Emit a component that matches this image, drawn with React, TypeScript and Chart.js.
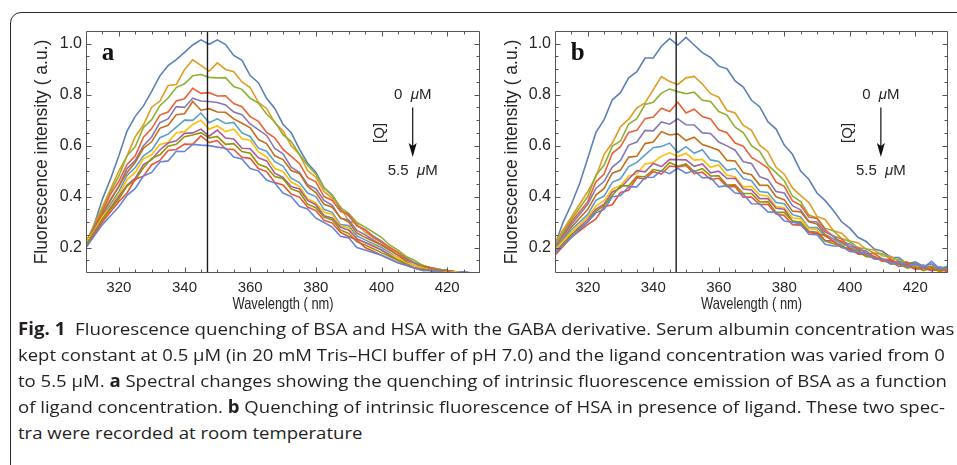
import React, { useEffect, useLayoutEffect, useRef } from 'react';
import { Chart, registerables } from 'chart.js';

Chart.register(...registerables);

// ---------- data ----------
const WAVELENGTHS = [310, 312.5, 315, 317.5, 320, 322.5, 325, 327.5, 330, 332.5, 335, 337.5, 340, 342.5, 345, 347.5, 350, 352.5, 355, 357.5, 360, 362.5, 365, 367.5, 370, 372.5, 375, 377.5, 380, 382.5, 385, 387.5, 390, 392.5, 395, 397.5, 400, 402.5, 405, 407.5, 410, 412.5, 415, 417.5, 420, 422.5, 425, 427.5, 430];

const CONCENTRATIONS = ['0 µM', '0.5 µM', '1.0 µM', '1.5 µM', '2.0 µM', '2.5 µM', '3.0 µM', '3.5 µM', '4.0 µM', '4.5 µM', '5.0 µM', '5.5 µM'];

const X_TICKS = [320, 340, 360, 380, 400, 420];
const Y_TICKS = [0.2, 0.4, 0.6, 0.8, 1.0];
const MARKER_NM = 347;
const X_TITLE = 'Wavelength ( nm)';
const Y_TITLE = 'Fluorescence intensity ( a.u.)';

// panel a: BSA
const BSA_0_0 = [0.21, 0.29, 0.39, 0.47, 0.56, 0.657, 0.715, 0.756, 0.813, 0.874, 0.914, 0.938, 0.966, 0.995, 1.015, 0.998, 1.015, 0.997, 0.954, 0.935, 0.875, 0.847, 0.786, 0.746, 0.684, 0.651, 0.586, 0.531, 0.496, 0.435, 0.404, 0.349, 0.325, 0.286, 0.27, 0.245, 0.225, 0.2, 0.18, 0.16, 0.14, 0.13, 0.12, 0.115, 0.11, 0.105, 0.105, 0.1, 0.1];
const BSA_0_5 = [0.22, 0.29, 0.36, 0.43, 0.50, 0.56, 0.635, 0.682, 0.751, 0.775, 0.836, 0.84, 0.898, 0.937, 0.915, 0.892, 0.925, 0.899, 0.89, 0.85, 0.828, 0.77, 0.746, 0.69, 0.658, 0.599, 0.565, 0.502, 0.476, 0.42, 0.393, 0.36, 0.304, 0.293, 0.26, 0.24, 0.22, 0.195, 0.18, 0.155, 0.14, 0.125, 0.12, 0.11, 0.11, 0.105, 0.1, 0.1, 0.1];
const BSA_1_0 = [0.22, 0.285, 0.35, 0.42, 0.48, 0.56, 0.596, 0.671, 0.702, 0.757, 0.787, 0.828, 0.843, 0.874, 0.879, 0.868, 0.866, 0.867, 0.832, 0.821, 0.786, 0.767, 0.724, 0.694, 0.643, 0.616, 0.566, 0.523, 0.488, 0.434, 0.407, 0.357, 0.334, 0.298, 0.28, 0.26, 0.24, 0.21, 0.19, 0.165, 0.15, 0.13, 0.12, 0.115, 0.11, 0.105, 0.1, 0.1, 0.1];
const BSA_1_5 = [0.21, 0.28, 0.34, 0.41, 0.46, 0.526, 0.56, 0.633, 0.667, 0.72, 0.732, 0.775, 0.784, 0.825, 0.805, 0.808, 0.795, 0.796, 0.765, 0.753, 0.714, 0.695, 0.652, 0.631, 0.585, 0.558, 0.53, 0.474, 0.458, 0.40, 0.385, 0.342, 0.331, 0.285, 0.27, 0.24, 0.22, 0.2, 0.18, 0.155, 0.14, 0.125, 0.12, 0.11, 0.11, 0.105, 0.1, 0.1, 0.1];
const BSA_2_0 = [0.21, 0.275, 0.33, 0.39, 0.44, 0.51, 0.542, 0.60, 0.634, 0.69, 0.705, 0.753, 0.75, 0.786, 0.775, 0.773, 0.769, 0.76, 0.732, 0.721, 0.685, 0.663, 0.64, 0.589, 0.568, 0.515, 0.495, 0.447, 0.431, 0.385, 0.366, 0.315, 0.308, 0.267, 0.25, 0.23, 0.21, 0.19, 0.17, 0.15, 0.14, 0.125, 0.12, 0.11, 0.11, 0.105, 0.1, 0.1, 0.1];
const BSA_2_5 = [0.22, 0.27, 0.33, 0.385, 0.44, 0.495, 0.534, 0.59, 0.615, 0.668, 0.68, 0.721, 0.725, 0.773, 0.739, 0.745, 0.732, 0.731, 0.705, 0.688, 0.67, 0.624, 0.608, 0.56, 0.545, 0.502, 0.491, 0.44, 0.416, 0.37, 0.358, 0.317, 0.30, 0.257, 0.24, 0.225, 0.21, 0.19, 0.17, 0.145, 0.13, 0.125, 0.12, 0.11, 0.11, 0.1, 0.1, 0.1, 0.1];
const BSA_3_0 = [0.21, 0.265, 0.32, 0.37, 0.42, 0.483, 0.514, 0.56, 0.582, 0.631, 0.645, 0.673, 0.70, 0.699, 0.728, 0.69, 0.705, 0.687, 0.691, 0.65, 0.636, 0.59, 0.578, 0.537, 0.52, 0.472, 0.455, 0.414, 0.40, 0.35, 0.338, 0.29, 0.286, 0.245, 0.23, 0.215, 0.20, 0.18, 0.16, 0.14, 0.13, 0.12, 0.11, 0.105, 0.10, 0.1, 0.1, 0.1, 0.1];
const BSA_3_5 = [0.22, 0.265, 0.32, 0.36, 0.41, 0.466, 0.495, 0.548, 0.564, 0.605, 0.612, 0.651, 0.655, 0.683, 0.70, 0.664, 0.678, 0.655, 0.665, 0.627, 0.621, 0.575, 0.556, 0.51, 0.498, 0.457, 0.44, 0.392, 0.375, 0.339, 0.33, 0.285, 0.278, 0.235, 0.22, 0.21, 0.19, 0.175, 0.16, 0.14, 0.13, 0.12, 0.11, 0.105, 0.1, 0.105, 0.1, 0.1, 0.1];
const BSA_4_0 = [0.21, 0.26, 0.31, 0.355, 0.40, 0.445, 0.472, 0.526, 0.545, 0.583, 0.61, 0.619, 0.648, 0.65, 0.665, 0.637, 0.661, 0.63, 0.626, 0.59, 0.588, 0.552, 0.54, 0.492, 0.475, 0.439, 0.43, 0.385, 0.368, 0.325, 0.316, 0.28, 0.268, 0.234, 0.22, 0.205, 0.19, 0.17, 0.15, 0.135, 0.12, 0.115, 0.11, 0.105, 0.1, 0.1, 0.1, 0.1, 0.1];
const BSA_4_5 = [0.21, 0.255, 0.31, 0.35, 0.39, 0.441, 0.465, 0.513, 0.55, 0.564, 0.598, 0.605, 0.635, 0.642, 0.651, 0.63, 0.636, 0.605, 0.608, 0.577, 0.57, 0.527, 0.515, 0.479, 0.47, 0.43, 0.418, 0.37, 0.356, 0.32, 0.308, 0.269, 0.255, 0.222, 0.21, 0.195, 0.18, 0.165, 0.15, 0.135, 0.12, 0.115, 0.11, 0.105, 0.1, 0.1, 0.1, 0.1, 0.1];
const BSA_5_0 = [0.20, 0.25, 0.30, 0.34, 0.38, 0.414, 0.468, 0.48, 0.525, 0.542, 0.581, 0.585, 0.606, 0.605, 0.638, 0.612, 0.62, 0.587, 0.585, 0.554, 0.55, 0.51, 0.498, 0.455, 0.446, 0.41, 0.398, 0.359, 0.345, 0.307, 0.296, 0.26, 0.243, 0.23, 0.20, 0.185, 0.17, 0.155, 0.14, 0.13, 0.12, 0.11, 0.11, 0.1, 0.1, 0.1, 0.1, 0.1, 0.1];
const BSA_5_5 = [0.20, 0.245, 0.29, 0.325, 0.36, 0.405, 0.432, 0.481, 0.495, 0.536, 0.54, 0.578, 0.577, 0.605, 0.602, 0.60, 0.594, 0.59, 0.555, 0.548, 0.51, 0.501, 0.465, 0.453, 0.414, 0.40, 0.362, 0.351, 0.315, 0.298, 0.28, 0.244, 0.238, 0.20, 0.19, 0.18, 0.17, 0.155, 0.14, 0.13, 0.12, 0.11, 0.11, 0.105, 0.1, 0.1, 0.105, 0.1, 0.1];

// panel b: HSA
const HSA_0_0 = [0.21, 0.30, 0.37, 0.45, 0.55, 0.652, 0.702, 0.78, 0.808, 0.866, 0.89, 0.944, 0.944, 0.99, 1.02, 0.995, 1.025, 0.995, 0.965, 0.946, 0.912, 0.902, 0.854, 0.83, 0.778, 0.753, 0.694, 0.665, 0.602, 0.566, 0.50, 0.468, 0.414, 0.384, 0.345, 0.301, 0.276, 0.24, 0.224, 0.194, 0.185, 0.162, 0.161, 0.135, 0.144, 0.126, 0.136, 0.115, 0.128];
const HSA_0_5 = [0.22, 0.27, 0.32, 0.37, 0.42, 0.478, 0.566, 0.61, 0.674, 0.704, 0.748, 0.768, 0.82, 0.871, 0.852, 0.84, 0.866, 0.872, 0.842, 0.804, 0.79, 0.738, 0.728, 0.679, 0.66, 0.602, 0.576, 0.515, 0.488, 0.434, 0.404, 0.377, 0.322, 0.31, 0.266, 0.256, 0.225, 0.219, 0.194, 0.19, 0.167, 0.166, 0.145, 0.144, 0.126, 0.131, 0.115, 0.123, 0.12];
const HSA_1_0 = [0.21, 0.26, 0.31, 0.355, 0.40, 0.484, 0.524, 0.598, 0.618, 0.685, 0.706, 0.762, 0.77, 0.806, 0.822, 0.812, 0.804, 0.81, 0.778, 0.773, 0.734, 0.72, 0.672, 0.651, 0.60, 0.578, 0.524, 0.494, 0.462, 0.402, 0.38, 0.328, 0.316, 0.275, 0.266, 0.235, 0.224, 0.199, 0.195, 0.177, 0.176, 0.155, 0.154, 0.136, 0.136, 0.12, 0.123, 0.12, 0.111];
const HSA_1_5 = [0.20, 0.25, 0.30, 0.34, 0.38, 0.458, 0.488, 0.57, 0.596, 0.652, 0.66, 0.706, 0.712, 0.747, 0.734, 0.77, 0.728, 0.743, 0.714, 0.705, 0.662, 0.651, 0.61, 0.598, 0.554, 0.534, 0.512, 0.457, 0.44, 0.383, 0.366, 0.32, 0.314, 0.269, 0.245, 0.234, 0.204, 0.20, 0.177, 0.176, 0.155, 0.154, 0.136, 0.141, 0.125, 0.123, 0.125, 0.111, 0.121];
const HSA_2_0 = [0.20, 0.245, 0.29, 0.33, 0.37, 0.432, 0.46, 0.516, 0.542, 0.602, 0.614, 0.66, 0.658, 0.693, 0.684, 0.705, 0.682, 0.681, 0.65, 0.648, 0.614, 0.599, 0.582, 0.537, 0.53, 0.478, 0.466, 0.42, 0.414, 0.364, 0.348, 0.303, 0.30, 0.261, 0.244, 0.219, 0.215, 0.192, 0.186, 0.16, 0.154, 0.141, 0.146, 0.13, 0.133, 0.125, 0.116, 0.121, 0.11];
const HSA_2_5 = [0.19, 0.235, 0.28, 0.315, 0.35, 0.406, 0.432, 0.492, 0.504, 0.555, 0.558, 0.608, 0.614, 0.655, 0.642, 0.646, 0.62, 0.633, 0.604, 0.594, 0.582, 0.542, 0.54, 0.493, 0.486, 0.445, 0.444, 0.399, 0.388, 0.343, 0.34, 0.301, 0.292, 0.25, 0.234, 0.225, 0.197, 0.191, 0.165, 0.164, 0.146, 0.151, 0.135, 0.138, 0.135, 0.121, 0.126, 0.11, 0.119];
const HSA_3_0 = [0.19, 0.23, 0.27, 0.30, 0.33, 0.385, 0.402, 0.456, 0.47, 0.518, 0.534, 0.564, 0.592, 0.597, 0.61, 0.573, 0.596, 0.57, 0.584, 0.544, 0.538, 0.503, 0.51, 0.471, 0.462, 0.42, 0.416, 0.377, 0.372, 0.329, 0.32, 0.278, 0.278, 0.244, 0.235, 0.212, 0.206, 0.18, 0.174, 0.156, 0.156, 0.14, 0.143, 0.135, 0.126, 0.131, 0.115, 0.124, 0.109];
const HSA_3_5 = [0.19, 0.225, 0.26, 0.29, 0.32, 0.363, 0.384, 0.43, 0.442, 0.481, 0.49, 0.528, 0.534, 0.559, 0.572, 0.557, 0.57, 0.543, 0.546, 0.515, 0.524, 0.484, 0.478, 0.438, 0.44, 0.406, 0.402, 0.36, 0.356, 0.317, 0.312, 0.274, 0.27, 0.228, 0.217, 0.211, 0.185, 0.184, 0.166, 0.166, 0.145, 0.143, 0.135, 0.121, 0.126, 0.115, 0.119, 0.104, 0.115];
const HSA_4_0 = [0.18, 0.215, 0.25, 0.28, 0.31, 0.351, 0.37, 0.418, 0.434, 0.469, 0.502, 0.497, 0.53, 0.518, 0.546, 0.545, 0.544, 0.519, 0.528, 0.493, 0.50, 0.471, 0.472, 0.43, 0.426, 0.392, 0.392, 0.354, 0.35, 0.303, 0.298, 0.264, 0.26, 0.227, 0.226, 0.20, 0.194, 0.176, 0.176, 0.155, 0.153, 0.145, 0.126, 0.131, 0.115, 0.119, 0.109, 0.115, 0.106];
const HSA_4_5 = [0.18, 0.215, 0.25, 0.275, 0.30, 0.343, 0.364, 0.404, 0.442, 0.442, 0.48, 0.478, 0.506, 0.50, 0.534, 0.519, 0.528, 0.498, 0.51, 0.481, 0.482, 0.445, 0.446, 0.412, 0.412, 0.379, 0.38, 0.338, 0.338, 0.304, 0.30, 0.262, 0.256, 0.225, 0.215, 0.209, 0.186, 0.186, 0.165, 0.163, 0.155, 0.136, 0.136, 0.12, 0.124, 0.109, 0.12, 0.106, 0.116];
const HSA_5_0 = [0.17, 0.205, 0.24, 0.265, 0.29, 0.312, 0.36, 0.368, 0.416, 0.425, 0.474, 0.469, 0.498, 0.488, 0.52, 0.516, 0.522, 0.49, 0.496, 0.467, 0.472, 0.439, 0.44, 0.398, 0.398, 0.369, 0.37, 0.332, 0.326, 0.29, 0.288, 0.259, 0.254, 0.247, 0.224, 0.201, 0.196, 0.175, 0.173, 0.165, 0.146, 0.151, 0.135, 0.134, 0.114, 0.125, 0.111, 0.116, 0.105];
const HSA_5_5 = [0.18, 0.21, 0.24, 0.27, 0.30, 0.336, 0.35, 0.399, 0.404, 0.438, 0.438, 0.475, 0.476, 0.502, 0.49, 0.511, 0.492, 0.502, 0.474, 0.475, 0.438, 0.443, 0.414, 0.41, 0.372, 0.371, 0.34, 0.338, 0.304, 0.299, 0.292, 0.252, 0.25, 0.213, 0.206, 0.206, 0.185, 0.183, 0.175, 0.156, 0.156, 0.135, 0.144, 0.124, 0.135, 0.121, 0.146, 0.115, 0.124];

const BSA_SERIES = [BSA_0_0, BSA_0_5, BSA_1_0, BSA_1_5, BSA_2_0, BSA_2_5, BSA_3_0, BSA_3_5, BSA_4_0, BSA_4_5, BSA_5_0, BSA_5_5];
const HSA_SERIES = [HSA_0_0, HSA_0_5, HSA_1_0, HSA_1_5, HSA_2_0, HSA_2_5, HSA_3_0, HSA_3_5, HSA_4_0, HSA_4_5, HSA_5_0, HSA_5_5];

// ---------- style ----------
const COLORS = ['#5E81B5', '#E19C24', '#8FB032', '#EB6235', '#8778B3', '#C56E1A', '#5D9EC7', '#FFBF00', '#A5609D', '#929600', '#E95536', '#6685D9'];
const SANS = '"Liberation Sans", Arial, Helvetica, sans-serif';
const INK = '#262626';
const FRAME = '#555555';

type CaptionSeg = { t: string; b?: boolean };
const CAPTION_LINES: { segs: CaptionSeg[]; width: number | null; cy: number }[] = [
  { segs: [{ t: 'Fig. 1', b: true }, { t: '  Fluorescence quenching of BSA and HSA with the GABA derivative. Serum albumin concentration was' }], width: 937, cy: 329 },
  { segs: [{ t: 'kept constant at 0.5 μM (in 20 mM Tris–HCl buffer of pH 7.0) and the ligand concentration was varied from 0' }], width: 927, cy: 355 },
  { segs: [{ t: 'to 5.5 μM. ' }, { t: 'a', b: true }, { t: ' Spectral changes showing the quenching of intrinsic fluorescence emission of BSA as a function' }], width: 929, cy: 381 },
  { segs: [{ t: 'of ligand concentration. ' }, { t: 'b', b: true }, { t: ' Quenching of intrinsic fluorescence of HSA in presence of ligand. These two spec-' }], width: 927, cy: 407 },
  { segs: [{ t: 'tra were recorded at room temperature' }], width: null, cy: 433 },
];

function makeOverlay(letter: string) {
  return {
    id: 'overlay-' + letter,
    afterDatasetsDraw(chart: any) {
      const { ctx, chartArea: a, scales } = chart;
      const xs = scales.x;
      const ys = scales.y;
      ctx.save();

      // marker line
      const mx = xs.getPixelForValue(MARKER_NM);
      ctx.strokeStyle = '#1c1c1c';
      ctx.lineWidth = 1.4;
      ctx.beginPath();
      ctx.moveTo(mx, a.top);
      ctx.lineTo(mx, a.bottom);
      ctx.stroke();

      // frame
      const L = Math.round(a.left) + 0.5;
      const R = Math.round(a.right) - 0.5;
      const T = Math.round(a.top) + 0.5;
      const B = Math.round(a.bottom) - 0.5;
      ctx.strokeStyle = FRAME;
      ctx.lineWidth = 1;
      ctx.beginPath();
      ctx.rect(L, T, R - L, B - T);
      ctx.stroke();

      // frame ticks (inward)
      ctx.beginPath();
      for (let v = xs.min + 5; v < xs.max; v += 5) {
        const px = Math.round(xs.getPixelForValue(v)) + 0.5;
        const len = v % 20 === 0 ? 5 : 3;
        ctx.moveTo(px, B); ctx.lineTo(px, B - len);
        ctx.moveTo(px, T); ctx.lineTo(px, T + len);
      }
      for (let i = 3; i <= 20; i++) {
        const v = i * 0.05;
        const py = Math.round(ys.getPixelForValue(v)) + 0.5;
        const len = i % 4 === 0 ? 5 : 3;
        ctx.moveTo(L, py); ctx.lineTo(L + len, py);
        ctx.moveTo(R, py); ctx.lineTo(R - len, py);
      }
      ctx.stroke();

      // x axis title (condensed like the original)
      ctx.save();
      ctx.translate((a.left + a.right) / 2, a.bottom + 31);
      ctx.scale(0.78, 1);
      ctx.fillStyle = INK;
      ctx.font = '16.5px ' + SANS;
      ctx.textAlign = 'center';
      ctx.textBaseline = 'middle';
      ctx.fillText(X_TITLE, 0, 0);
      ctx.restore();

      // panel letter
      ctx.fillStyle = '#111';
      ctx.font = 'bold 25px "Liberation Serif", "Times New Roman", serif';
      ctx.textAlign = 'left';
      ctx.textBaseline = 'alphabetic';
      ctx.fillText(letter, xs.getPixelForValue(314.8), ys.getPixelForValue(0.935));

      // concentration annotation
      const ax = xs.getPixelForValue(409.5);
      ctx.fillStyle = INK;
      const drawConc = (num: string, val: number) => {
        const up = '15px ' + SANS;
        const it = 'italic 15px ' + SANS;
        ctx.font = up;
        const w1 = ctx.measureText(num + '  ').width;
        const w3 = ctx.measureText('M').width;
        ctx.font = it;
        const w2 = ctx.measureText('μ').width;
        let x = ax - (w1 + w2 + w3) / 2;
        const y = ys.getPixelForValue(val);
        ctx.textBaseline = 'middle';
        ctx.textAlign = 'left';
        ctx.font = up; ctx.fillText(num + '  ', x, y); x += w1;
        ctx.font = it; ctx.fillText('μ', x, y); x += w2;
        ctx.font = up; ctx.fillText('M', x, y);
      };
      drawConc('0', 0.80);
      drawConc('5.5', 0.50);

      // arrow
      const aTop = ys.getPixelForValue(0.75);
      const aTip = ys.getPixelForValue(0.555);
      ctx.strokeStyle = '#111';
      ctx.fillStyle = '#111';
      ctx.lineWidth = 1.2;
      ctx.beginPath();
      ctx.moveTo(ax, aTop);
      ctx.lineTo(ax, aTip - 10);
      ctx.stroke();
      ctx.beginPath();
      ctx.moveTo(ax, aTip);
      ctx.lineTo(ax - 4, aTip - 14);
      ctx.lineTo(ax, aTip - 11);
      ctx.lineTo(ax + 4, aTip - 14);
      ctx.closePath();
      ctx.fill();

      // [Q]
      ctx.save();
      ctx.translate(xs.getPixelForValue(399.4), ys.getPixelForValue(0.65));
      ctx.rotate(-Math.PI / 2);
      ctx.fillStyle = INK;
      ctx.font = '15px ' + SANS;
      ctx.textAlign = 'center';
      ctx.textBaseline = 'middle';
      ctx.fillText('[Q]', 0, 0);
      ctx.restore();

      ctx.restore();
    },
  };
}

type PanelProps = {
  left: number; top: number; width: number; height: number;
  yAxisWidth: number; yTitlePad: number; padRight: number;
  letter: string; series: number[][];
};

function Panel({ left, top, width, height, yAxisWidth, yTitlePad, padRight, letter, series }: PanelProps) {
  const ref = useRef<HTMLCanvasElement>(null);
  useEffect(() => {
    if (!ref.current) return;
    const chart = new Chart(ref.current, {
      type: 'line',
      data: {
        datasets: series.map((vals, i) => ({
          label: CONCENTRATIONS[i],
          data: WAVELENGTHS.map((x, j) => ({ x, y: vals[j] })),
          borderColor: COLORS[i],
          backgroundColor: COLORS[i],
          borderWidth: 1.6,
          pointRadius: 0,
          tension: 0,
          fill: false,
          order: series.length - i,
        })),
      },
      options: {
        responsive: false,
        maintainAspectRatio: false,
        animation: false,
        events: [],
        layout: { padding: { top: 20, right: padRight, left: 0, bottom: 0 } },
        plugins: { legend: { display: false }, tooltip: { enabled: false } },
        scales: {
          x: {
            type: 'linear',
            min: 310,
            max: 430,
            afterBuildTicks: (s: any) => { s.ticks = X_TICKS.map((value) => ({ value })); },
            afterFit: (s: any) => { s.height = 47; },
            grid: { display: false, drawTicks: false },
            border: { display: false },
            ticks: { font: { family: SANS, size: 15 }, color: INK, padding: 6, maxRotation: 0, callback: (v: any) => String(v) },
            title: { display: false, text: X_TITLE },
          },
          y: {
            type: 'linear',
            min: 0.1,
            max: 1.05,
            afterBuildTicks: (s: any) => { s.ticks = Y_TICKS.map((value) => ({ value })); },
            afterFit: (s: any) => { s.width = yAxisWidth; },
            grid: { display: false, drawTicks: false },
            border: { display: false },
            ticks: { font: { family: SANS, size: 16 }, color: INK, padding: 4, callback: (v: any) => Number(v).toFixed(1) },
            title: { display: true, text: Y_TITLE, color: INK, font: { family: SANS, size: 17.5 }, padding: { top: yTitlePad, bottom: 0 } },
          },
        },
      },
      plugins: [makeOverlay(letter)],
    } as any);
    return () => chart.destroy();
  }, []);
  return (
    <canvas
      ref={ref}
      width={width}
      height={height}
      style={{ position: 'absolute', left, top, width, height }}
    />
  );
}

function Caption() {
  const refs = useRef<(HTMLDivElement | null)[]>([]);
  useLayoutEffect(() => {
    const ks: number[] = [];
    CAPTION_LINES.forEach((ln, i) => {
      const el = refs.current[i];
      if (!el || ln.width == null) return;
      const k = ln.width / el.offsetWidth;
      ks.push(k);
      el.style.transform = `scaleX(${k})`;
    });
    const avg = ks.reduce((s, k) => s + k, 0) / Math.max(ks.length, 1);
    CAPTION_LINES.forEach((ln, i) => {
      const el = refs.current[i];
      if (el && ln.width == null) el.style.transform = `scaleX(${avg})`;
    });
  }, []);
  return (
    <>
      {CAPTION_LINES.map((ln, i) => (
        <div
          key={i}
          ref={(el) => { refs.current[i] = el; }}
          style={{
            position: 'absolute',
            left: 18,
            top: ln.cy - 13,
            height: 26,
            lineHeight: '26px',
            fontFamily: '"Open Sans", "Noto Sans", sans-serif',
            fontSize: 17,
            color: '#231f20',
            whiteSpace: 'pre',
            transformOrigin: 'left center',
          }}
        >
          {ln.segs.map((s, j) => (
            <span key={j} style={{ fontWeight: s.b ? 700 : 400 }}>{s.t}</span>
          ))}
        </div>
      ))}
    </>
  );
}

export default function App() {
  return (
    <div style={{ position: 'absolute', left: 0, top: 0, width: 957, height: 465, overflow: 'hidden', background: '#ffffff' }}>
      <div
        style={{
          position: 'absolute', left: 10, top: 12, width: 1000, height: 600,
          border: '1.2px solid #2b2b2b', borderRadius: 11, boxSizing: 'border-box',
        }}
      />
      <Panel left={10} top={11} width={472} height={309} yAxisWidth={76} yTitlePad={21.3} padRight={2} letter="a" series={BSA_SERIES} />
      <Panel left={482} top={11} width={471} height={309} yAxisWidth={73} yTitlePad={19.3} padRight={5} letter="b" series={HSA_SERIES} />
      <Caption />
    </div>
  );
}
